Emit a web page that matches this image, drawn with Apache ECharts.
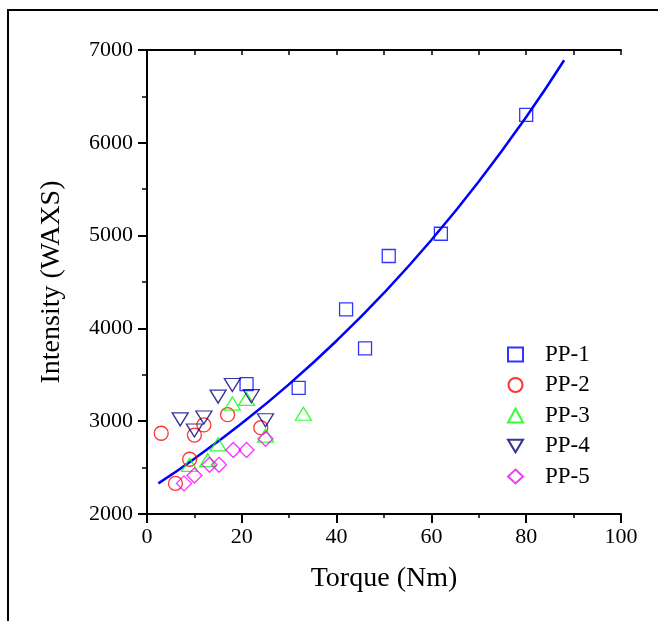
<!DOCTYPE html>
<html><head><meta charset="utf-8">
<script src="https://cdn.jsdelivr.net/npm/echarts@6/dist/echarts.min.js"></script>
<style>html,body{margin:0;padding:0;background:#fff}#c{width:658px;height:621px}</style>
</head><body><div id="c"></div>
<script>
// Data: [Torque (Nm), Intensity]
const pp1 = [[21, 3400], [32, 3360], [42, 4205], [46, 3785], [51, 4780], [62, 5020], [80, 6300]];
const pp2 = [[3, 2870], [6, 2330], [9, 2590], [10, 2850], [12, 2960], [17, 3070], [24, 2930]];
const pp3 = [[9, 2530], [12.8, 2580], [15, 2750], [18, 3190], [21, 3240], [25, 2845], [33, 3080]];
const pp4 = [[7, 3020], [10, 2900], [12, 3040], [15, 3265], [18, 3390], [22, 3270], [25, 3010]];
const pp5 = [[7.8, 2330], [10, 2415], [13.2, 2530], [15.2, 2530], [18.2, 2690], [21, 2690], [25, 2810]];
// fitted curve, points
const fitCurve = [[2.4, 2330], [10, 2596], [20, 2978], [30, 3400], [40, 3867], [50, 4383], [60, 4953], [70, 5583], [80, 6279], [88, 6890]];
const seriesNames = ['PP-1', 'PP-2', 'PP-3', 'PP-4', 'PP-5'];

const font = 'Liberation Serif, Times New Roman, serif';
const chart = echarts.init(document.getElementById('c'), null, {renderer: 'canvas'});

function scat(name, data, color, symbol, size) {
  return {
    name: name, type: 'scatter', data: data, symbol: symbol, symbolSize: size,
    itemStyle: {color: 'rgba(0,0,0,0)', borderColor: color, borderWidth: 1.3},
    emphasis: {disabled: true}, z: 3
  };
}
const invTri = 'path://M0,0L20,0L10,17Z';
const plain = v => String(v);

chart.setOption({
  animation: false,
  backgroundColor: '#fff',
  graphic: [{type: 'rect', shape: {x: 8, y: 10, width: 720, height: 720}, style: {fill: 'none', stroke: '#000', lineWidth: 2}, silent: true}],
  grid: {left: 147, top: 50, right: 37, bottom: 107, containLabel: false},
  legend: {
    orient: 'vertical', left: 502, top: 338, itemGap: 7.5, itemWidth: 15, itemHeight: 14,
    data: seriesNames,
    textStyle: {fontFamily: font, fontSize: 23, lineHeight: 23, color: '#000', padding: [0, 0, 0, 17]}
  },
  xAxis: [{
    type: 'value', min: 0, max: 100, interval: 20, position: 'bottom',
    name: 'Torque (Nm)', nameLocation: 'middle', nameGap: 51,
    nameTextStyle: {fontFamily: font, fontSize: 28, color: '#000'},
    axisLine: {lineStyle: {color: '#000', width: 2}},
    axisTick: {inside: false, length: 9, lineStyle: {color: '#000', width: 2}},
    minorTick: {show: true, splitNumber: 2, length: 4, lineStyle: {color: '#000', width: 1.5}},
    axisLabel: {fontFamily: font, fontSize: 22, color: '#000', margin: 12, formatter: plain},
    splitLine: {show: false}
  }, {
    type: 'value', min: 0, max: 100, interval: 10, position: 'top',
    axisLine: {lineStyle: {color: '#000', width: 2}},
    axisTick: {inside: true, length: 5, lineStyle: {color: '#000', width: 1.5}},
    axisLabel: {show: false}, splitLine: {show: false}
  }],
  yAxis: [{
    type: 'value', min: 2000, max: 7000, interval: 1000, position: 'left',
    name: 'Intensity (WAXS)', nameLocation: 'middle', nameGap: 81,
    nameTextStyle: {fontFamily: font, fontSize: 28, color: '#000'},
    axisLine: {lineStyle: {color: '#000', width: 2}},
    axisTick: {inside: false, length: 9, lineStyle: {color: '#000', width: 2}},
    minorTick: {show: true, splitNumber: 2, length: 4, lineStyle: {color: '#000', width: 1.5}},
    axisLabel: {fontFamily: font, fontSize: 22, color: '#000', margin: 14, formatter: plain},
    splitLine: {show: false}
  }, {
    type: 'value', min: 2000, max: 7000, interval: 500, position: 'right',
    axisLine: {lineStyle: {color: '#000', width: 2}},
    axisTick: {inside: true, length: 5, lineStyle: {color: '#000', width: 1.5}},
    axisLabel: {show: false}, splitLine: {show: false}
  }],
  series: [
    scat('PP-1', pp1, '#0000ff', 'rect', 13),
    scat('PP-2', pp2, '#ff0000', 'circle', 14),
    scat('PP-3', pp3, '#00ff00', 'triangle', [16, 13]),
    scat('PP-4', pp4, '#000080', invTri, [16, 13]),
    scat('PP-5', pp5, '#ff00ff', 'diamond', [15, 15]),
    {
      name: 'fit', type: 'line', data: fitCurve, smooth: true, symbol: 'none',
      lineStyle: {color: '#0000ff', width: 2.5}, z: 2, emphasis: {disabled: true}
    }
  ]
});
</script></body></html>
